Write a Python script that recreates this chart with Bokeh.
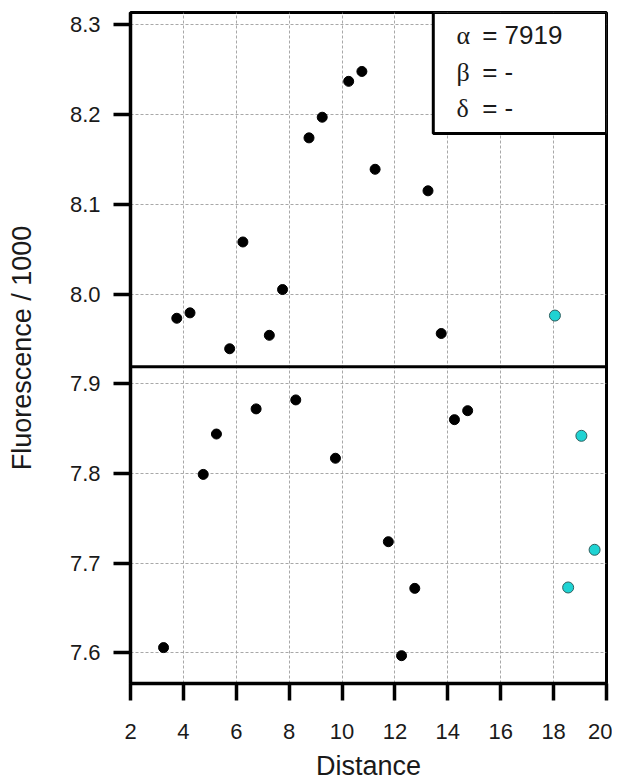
from bokeh.plotting import figure
from bokeh.models import FixedTicker, NumeralTickFormatter, Span, BoxAnnotation, Label, Range1d
from bokeh.embed import file_html
from bokeh.resources import INLINE

# ---- data ----
distance_main = [3.25, 3.75, 4.25, 4.75, 5.25, 5.75, 6.25, 6.75, 7.25, 7.75, 8.25, 8.75,
                 9.25, 9.75, 10.25, 10.75, 11.25, 11.75, 12.25, 12.75, 13.25, 13.75, 14.25, 14.75]
fluor_main = [7.606, 7.973, 7.979, 7.799, 7.844, 7.939, 8.058, 7.872, 7.954, 8.005, 7.882, 8.174,
              8.197, 7.817, 8.237, 8.248, 8.139, 7.724, 7.597, 7.672, 8.115, 7.956, 7.860, 7.870]
distance_extra = [18.05, 18.55, 19.05, 19.55]
fluor_extra = [7.976, 7.673, 7.842, 7.715]
alpha_value = 7919
beta_value = "-"
delta_value = "-"
x_ticks = [2, 4, 6, 8, 10, 12, 14, 16, 18, 20]
y_ticks = [7.6, 7.7, 7.8, 7.9, 8.0, 8.1, 8.2, 8.3]

p = figure(width=612, height=783, output_backend="svg", toolbar_location=None,
           x_range=Range1d(2, 20), y_range=Range1d(7.566, 8.3137),
           min_border_left=130, min_border_right=6, min_border_top=12, min_border_bottom=98,
           x_axis_label="Distance", y_axis_label="Fluorescence / 1000")

p.background_fill_color = "white"
p.border_fill_color = "white"
p.outline_line_color = "black"
p.outline_line_width = 3

for ax in (p.xaxis[0], p.yaxis[0]):
    ax.axis_line_width = 3.5
    ax.axis_line_color = "black"
    ax.major_tick_line_width = 3.5
    ax.major_tick_line_color = "black"
    ax.major_tick_out = 17
    ax.major_tick_in = 0
    ax.minor_tick_line_color = None
    ax.major_label_text_font = "Liberation Sans"
    ax.major_label_text_font_size = "22px"
    ax.major_label_text_color = "#1a1a1a"
    ax.axis_label_text_font = "Liberation Sans"
    ax.axis_label_text_font_size = "27px"
    ax.axis_label_text_font_style = "normal"
    ax.axis_label_text_color = "#1a1a1a"

p.xaxis[0].ticker = FixedTicker(ticks=x_ticks)
p.yaxis[0].ticker = FixedTicker(ticks=y_ticks)
p.yaxis[0].formatter = NumeralTickFormatter(format="0.0")
p.xaxis[0].major_label_standoff = 23
p.yaxis[0].major_label_standoff = 13
p.xaxis[0].axis_label_standoff = 9
p.yaxis[0].axis_label_standoff = 30

p.xgrid.ticker = FixedTicker(ticks=x_ticks)
p.ygrid.ticker = FixedTicker(ticks=y_ticks)
for g in (p.xgrid[0], p.ygrid[0]):
    g.grid_line_color = "#a8a8a8"
    g.grid_line_width = 1
    g.grid_line_dash = "3 2"

# threshold line at alpha / 1000
p.add_layout(Span(location=alpha_value / 1000, dimension="width",
                  line_color="black", line_width=3))

p.scatter(distance_main, fluor_main, size=10, fill_color="black", line_color="black")
p.scatter(distance_extra, fluor_extra, size=11, fill_color="#1fd3d3", line_color="#2f5f5f",
          line_width=1)

# parameter box
p.add_layout(BoxAnnotation(left=13.45, bottom=8.179, fill_color="white", fill_alpha=1,
                           line_color="black", line_width=3, line_alpha=1))

rows = [("α", f"= {alpha_value}", 8.2881), ("β", f"= {beta_value}", 8.2473),
        ("δ", f"= {delta_value}", 8.207)]
for greek, rest, yy in rows:
    p.add_layout(Label(x=14.33, y=yy, text=greek, text_font="Liberation Serif",
                       text_font_size="26px", text_baseline="middle", text_color="#1a1a1a"))
    p.add_layout(Label(x=15.30, y=yy, text=rest, text_font="Liberation Sans",
                       text_font_size="26px", text_baseline="middle", text_color="#1a1a1a"))

open("out.html", "w").write(file_html(p, INLINE))
